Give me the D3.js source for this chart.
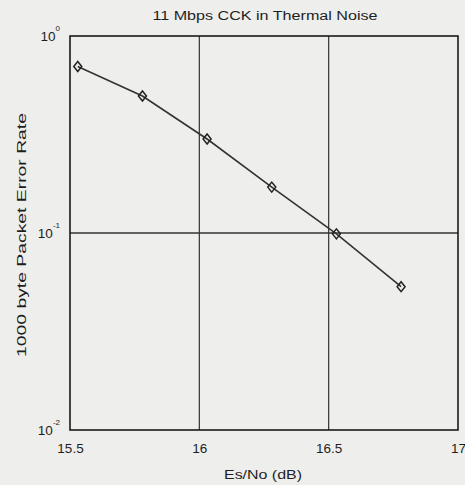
<!DOCTYPE html>
<html>
<head>
  <script src="https://d3js.org/d3.v7.min.js"></script>
  <style>
    body { margin: 0; background: #eeeeec; }
    text { font-family: "Liberation Sans", Arial, sans-serif; fill: #1e1e1e; }
  </style>
</head>
<body>
  <script>
    // data
    var esNo = [15.53, 15.78, 16.03, 16.28, 16.53, 16.78];
    var per = [0.70, 0.496, 0.30, 0.171, 0.099, 0.0534];
    var xTicks = [15.5, 16, 16.5, 17];
    var yTicks = [1, 0.1, 0.01];
    var yTickExp = ["0", "-1", "-2"];

    var margin = {top: 36, right: 7, bottom: 55, left: 70};
    var width = 465 - margin.left - margin.right;
    var height = 485 - margin.top - margin.bottom;

    var svg = d3.select("body").append("svg")
      .attr("width", 465)
      .attr("height", 485);

    var g = svg.append("g")
      .attr("transform", "translate(" + margin.left + "," + margin.top + ")");

    var x = d3.scaleLinear().domain([15.5, 17]).range([0, width]);
    var y = d3.scaleLog().domain([0.01, 1]).range([height, 0]);

    // grid lines
    g.selectAll(".vgrid")
      .data(xTicks.slice(1, -1))
      .enter().append("line")
      .attr("x1", function(d) { return x(d); })
      .attr("x2", function(d) { return x(d); })
      .attr("y1", 0).attr("y2", height)
      .attr("stroke", "#333").attr("stroke-width", 1.2);

    g.selectAll(".hgrid")
      .data(yTicks.slice(1, -1))
      .enter().append("line")
      .attr("x1", 0).attr("x2", width)
      .attr("y1", function(d) { return y(d); })
      .attr("y2", function(d) { return y(d); })
      .attr("stroke", "#333").attr("stroke-width", 1.5);

    // frame
    g.append("rect")
      .attr("width", width).attr("height", height)
      .attr("fill", "none").attr("stroke", "#1a1a1a").attr("stroke-width", 1.6);

    // x axis labels
    var xAxis = d3.axisBottom(x).tickValues(xTicks).tickSize(0).tickPadding(13)
      .tickFormat(function(d) { return d; });
    g.append("g")
      .attr("transform", "translate(0," + height + ")")
      .call(xAxis)
      .call(function(s) { s.select(".domain").remove(); })
      .selectAll("text")
      .attr("font-size", 13.5)
      .attr("font-family", "Liberation Sans, Arial, sans-serif")
      .attr("fill", "#1e1e1e");

    // y axis labels (10 with superscript exponent)
    var yl = g.selectAll(".ylab")
      .data(yTicks)
      .enter().append("text")
      .attr("x", -10)
      .attr("y", function(d) { return y(d) + 5; })
      .attr("text-anchor", "end")
      .attr("font-size", 13.5);
    yl.append("tspan").text("10");
    yl.append("tspan")
      .attr("dy", -10)
      .attr("font-size", 8)
      .text(function(d, i) { return yTickExp[i]; });

    // line and markers
    var pts = esNo.map(function(d, i) { return [d, per[i]]; });
    var line = d3.line()
      .x(function(d) { return x(d[0]); })
      .y(function(d) { return y(d[1]); });

    g.append("path")
      .datum(pts)
      .attr("d", line)
      .attr("fill", "none")
      .attr("stroke", "#333")
      .attr("stroke-width", 1.6);

    g.selectAll(".pt")
      .data(pts)
      .enter().append("path")
      .attr("transform", function(d) { return "translate(" + x(d[0]) + "," + y(d[1]) + ")"; })
      .attr("d", "M0,-5L4,0L0,5L-4,0Z")
      .attr("fill", "none")
      .attr("stroke", "#222")
      .attr("stroke-width", 1.5);

    // title and axis titles
    svg.append("text")
      .attr("x", 265)
      .attr("y", 20)
      .attr("text-anchor", "middle")
      .attr("font-size", 12.5)
      .attr("textLength", 225)
      .attr("lengthAdjust", "spacingAndGlyphs")
      .text("11 Mbps CCK in Thermal Noise");

    svg.append("text")
      .attr("x", 263)
      .attr("y", 479)
      .attr("text-anchor", "middle")
      .attr("font-size", 13)
      .attr("textLength", 78)
      .attr("lengthAdjust", "spacingAndGlyphs")
      .text("Es/No (dB)");

    svg.append("text")
      .attr("transform", "translate(26,235) rotate(-90)")
      .attr("text-anchor", "middle")
      .attr("font-size", 13)
      .attr("textLength", 244)
      .attr("lengthAdjust", "spacingAndGlyphs")
      .text("1000 byte Packet Error Rate");
  </script>
</body>
</html>
